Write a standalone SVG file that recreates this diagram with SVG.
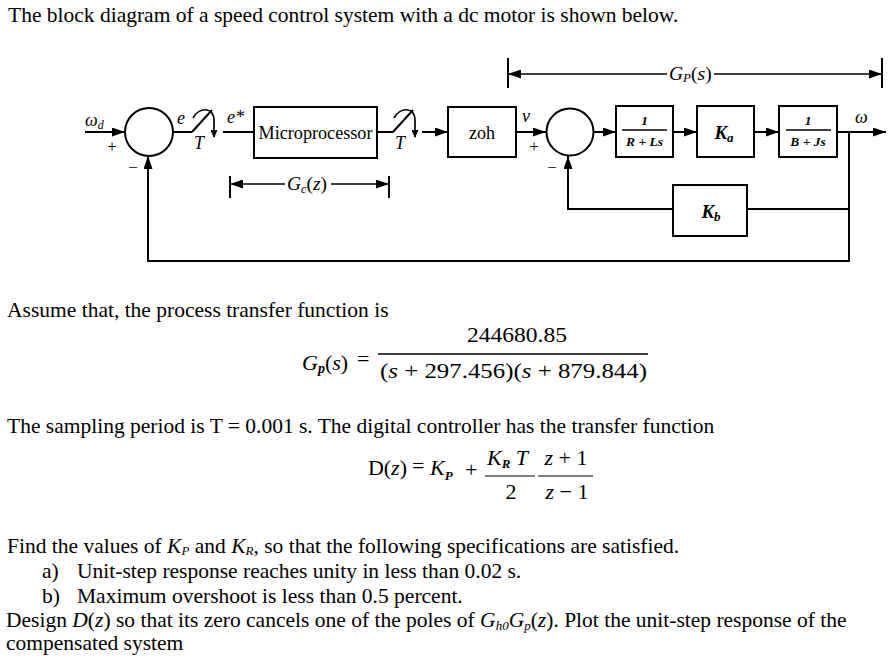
<svg xmlns="http://www.w3.org/2000/svg" width="890" height="664" viewBox="0 0 890 664">
<defs>
<marker id="arr" markerUnits="userSpaceOnUse" markerWidth="13" markerHeight="9" refX="13" refY="4.5" orient="auto">
<path d="M0,0 L13,4.5 L0,9 z" fill="#000"/>
</marker>
<marker id="arrS" markerUnits="userSpaceOnUse" markerWidth="8" markerHeight="7" refX="7" refY="3.5" orient="auto">
<path d="M0,0 L8,3.5 L0,7 z" fill="#000"/>
</marker>
</defs>
<style>
text{font-family:"Liberation Serif","Times New Roman",serif;fill:#000}
.body{font-family:"Liberation Serif","Times New Roman",serif;font-size:21.5px}
.lbl{font-family:"Liberation Serif","Times New Roman",serif;font-size:18px;font-style:italic}
.dim{font-family:"Liberation Serif","Times New Roman",serif;font-size:19.5px;font-style:italic}
.sign{font-family:"Liberation Serif","Times New Roman",serif;font-size:17px}
.box{fill:#fff;stroke:#000;stroke-width:2}
.sum{fill:#fff;stroke:#000;stroke-width:2}
.ln{fill:none;stroke:#000;stroke-width:2}
.arw{fill:none;stroke:#000;stroke-width:2;marker-end:url(#arr)}
.frac{font-family:"Liberation Serif","Times New Roman",serif;font-size:13.5px;font-style:italic;font-weight:bold}
.blk{font-family:"Liberation Serif","Times New Roman",serif;font-size:19px;font-style:italic;font-weight:bold}
.eq{font-family:"Liberation Serif","Times New Roman",serif;font-size:22px}
.i{font-style:italic}
</style>
<rect width="890" height="664" fill="#fff"/>

<text class="body" x="8" y="22">The block diagram of a speed control system with a dc motor is shown below.</text>

<g id="connectors">
<line class="arw" x1="85" y1="132" x2="125" y2="132"/>
<line class="ln" x1="173" y1="132" x2="192" y2="132"/>
<line class="ln" x1="223" y1="132" x2="254" y2="132"/>
<line class="ln" x1="377" y1="132" x2="393" y2="132"/>
<line class="arw" x1="422" y1="132" x2="448" y2="132"/>
<line class="arw" x1="516" y1="132" x2="546" y2="132"/>
<line class="arw" x1="593" y1="132" x2="616" y2="132"/>
<line class="arw" x1="673" y1="132" x2="697" y2="132"/>
<line class="arw" x1="754" y1="132" x2="779" y2="132"/>
<line class="arw" x1="837" y1="132" x2="886" y2="132"/>
<line class="ln" x1="849" y1="132" x2="849" y2="262"/>
<line class="ln" x1="849" y1="209" x2="747" y2="209"/>
<polyline class="arw" points="673,209 568,209 568,156"/>
<polyline class="arw" points="850,261 148,261 148,156"/>
</g>

<g id="sum1">
<circle class="sum" cx="149" cy="132" r="24"/>
</g>
<g id="sampler1">
<line class="ln" x1="192" y1="132" x2="212" y2="110"/>
<path d="M193,118 C199,107 214,106 214,121 L214,137" fill="none" stroke="#000" stroke-width="1.7" marker-end="url(#arrS)"/>
</g>
<g id="microprocessor">
<rect class="box" x="254" y="107" width="123" height="51"/>
<text x="315.5" y="139" font-size="18" text-anchor="middle" textLength="114" lengthAdjust="spacingAndGlyphs">Microprocessor</text>
</g>
<g id="sampler2">
<line class="ln" x1="393" y1="132" x2="413" y2="110"/>
<path d="M394,118 C400,107 415,106 415,121 L415,137" fill="none" stroke="#000" stroke-width="1.7" marker-end="url(#arrS)"/>
</g>
<g id="zoh">
<rect class="box" x="448" y="107" width="68" height="50"/>
<text x="482" y="139" font-size="18" text-anchor="middle">zoh</text>
</g>
<g id="sum2">
<circle class="sum" cx="570" cy="132" r="23.5"/>
</g>
<g id="block-RLs">
<rect class="box" x="616" y="106" width="57" height="51"/>
<text class="frac" x="644.5" y="125" text-anchor="middle" font-style="normal">1</text>
<line x1="622" y1="130" x2="667" y2="130" stroke="#000" stroke-width="1.3"/>
<text class="frac" x="644.5" y="146" text-anchor="middle">R + Ls</text>
</g>
<g id="block-Ka">
<rect class="box" x="697" y="106" width="57" height="51"/>
<text class="blk" x="724" y="139" text-anchor="middle">K<tspan font-size="13" dy="3">a</tspan></text>
</g>
<g id="block-BJs">
<rect class="box" x="779" y="106" width="58" height="51"/>
<text class="frac" x="808" y="125" text-anchor="middle" font-style="normal">1</text>
<line x1="786" y1="130" x2="831" y2="130" stroke="#000" stroke-width="1.3"/>
<text class="frac" x="808" y="146" text-anchor="middle">B + Js</text>
</g>
<g id="block-Kb">
<rect class="box" x="673" y="185" width="74" height="51"/>
<text class="blk" x="711" y="218" text-anchor="middle">K<tspan font-size="13" dy="3">b</tspan></text>
</g>

<g id="labels">
<text class="lbl" x="85" y="126">ω<tspan font-size="12" dy="3">d</tspan></text>
<text class="sign" x="112" y="152" text-anchor="middle">+</text>
<text class="sign" x="133" y="173" text-anchor="middle">−</text>
<text class="lbl" x="177" y="124">e</text>
<text class="lbl" x="199" y="149" text-anchor="middle">T</text>
<text class="lbl" x="227" y="123">e*</text>
<text class="lbl" x="400" y="149" text-anchor="middle">T</text>
<text class="lbl" x="522" y="122">v</text>
<text class="sign" x="534" y="152" text-anchor="middle">+</text>
<text class="sign" x="552" y="173" text-anchor="middle">−</text>
<text class="lbl" x="855" y="123" font-style="normal">ω</text>
</g>

<g id="dim-Gc">
<line class="ln" x1="230" y1="176" x2="230" y2="198" stroke-width="1.6"/>
<line class="ln" x1="389" y1="176" x2="389" y2="198" stroke-width="1.6"/>
<line x1="285" y1="184" x2="230" y2="184" stroke="#000" stroke-width="1.6" marker-end="url(#arr)"/>
<line x1="331" y1="184" x2="389" y2="184" stroke="#000" stroke-width="1.6" marker-end="url(#arr)"/>
<text class="dim" x="287" y="190">G<tspan font-size="12" dy="3">c</tspan><tspan dy="-3" font-style="normal">(</tspan>z<tspan font-style="normal">)</tspan></text>
</g>
<g id="dim-Gp">
<line class="ln" x1="508" y1="58" x2="508" y2="88" stroke-width="1.6"/>
<line class="ln" x1="882" y1="58" x2="882" y2="88" stroke-width="1.6"/>
<line x1="667" y1="74" x2="508" y2="74" stroke="#000" stroke-width="1.6" marker-end="url(#arr)"/>
<line x1="714" y1="74" x2="882" y2="74" stroke="#000" stroke-width="1.6" marker-end="url(#arr)"/>
<text class="dim" x="669" y="80">G<tspan font-size="13" dy="2">P</tspan><tspan dy="-2" font-style="normal">(</tspan>s<tspan font-style="normal">)</tspan></text>
</g>

<text class="body" x="7" y="317">Assume that, the process transfer function is</text>

<g id="eq-Gp">
<text class="eq" x="302" y="370"><tspan class="i">G</tspan><tspan class="i" font-size="14" font-weight="bold" dy="3">p</tspan><tspan dy="-3">(</tspan><tspan class="i">s</tspan>)</text>
<text class="eq" x="357" y="366">=</text>
<text class="eq" x="517" y="342" text-anchor="middle" textLength="100" lengthAdjust="spacingAndGlyphs">244680.85</text>
<line x1="378" y1="354" x2="648" y2="354" stroke="#000" stroke-width="1.3"/>
<text class="eq" x="380" y="378" textLength="267" lengthAdjust="spacingAndGlyphs">(<tspan class="i">s</tspan> + 297.456)(<tspan class="i">s</tspan> + 879.844)</text>
</g>

<text class="body" x="7" y="433">The sampling period is T = 0.001 s. The digital controller has the transfer function</text>

<g id="eq-D">
<text class="eq" x="407" y="475" text-anchor="end">D(<tspan class="i">z</tspan>)</text>
<text class="eq" x="412" y="473">=</text>
<text class="eq" x="430" y="475"><tspan class="i">K</tspan><tspan class="i" font-size="13" font-weight="bold" dy="5">P</tspan></text>
<text class="eq" x="465" y="477">+</text>
<text class="eq" x="487" y="465"><tspan class="i">K</tspan><tspan class="i" font-size="13" font-weight="bold" dy="3">R</tspan><tspan class="i" dy="-3"> T</tspan></text>
<line x1="485" y1="476" x2="535" y2="476" stroke="#000" stroke-width="1.2"/>
<text class="eq" x="511" y="499" text-anchor="middle">2</text>
<text class="eq" x="566" y="465" text-anchor="middle"><tspan class="i">z</tspan> + 1</text>
<line x1="538" y1="476" x2="593" y2="476" stroke="#000" stroke-width="1.2"/>
<text class="eq" x="567" y="499" text-anchor="middle"><tspan class="i">z</tspan> − 1</text>
</g>

<text class="body" x="7" y="553">Find the values of <tspan class="i">K</tspan><tspan class="i" font-size="13" dy="2">P</tspan><tspan dy="-2"> and </tspan><tspan class="i">K</tspan><tspan class="i" font-size="13" dy="2">R</tspan><tspan dy="-2">, so that the following specifications are satisfied.</tspan></text>
<text class="body" x="42" y="578">a)</text>
<text class="body" x="77" y="578">Unit-step response reaches unity in less than 0.02 s.</text>
<text class="body" x="42" y="603">b)</text>
<text class="body" x="77" y="603">Maximum overshoot is less than 0.5 percent.</text>
<text class="body" x="6" y="627">Design <tspan class="i">D</tspan>(<tspan class="i">z</tspan>) so that its zero cancels one of the poles of <tspan class="i">G</tspan><tspan class="i" font-size="13" dy="3">h0</tspan><tspan class="i" dy="-3">G</tspan><tspan class="i" font-size="13" dy="3">p</tspan><tspan dy="-3">(</tspan><tspan class="i">z</tspan>). Plot the unit-step response of the</text>
<text class="body" x="6" y="650">compensated system</text>
</svg>
